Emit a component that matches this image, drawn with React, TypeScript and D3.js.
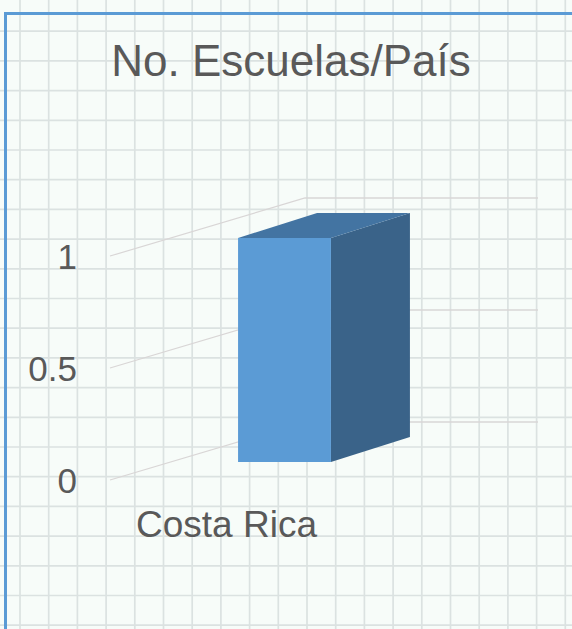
import React from "react";
import * as d3 from "d3";

const W = 572;
const H = 629;

const title = "No. Escuelas/País";
const categories = ["Costa Rica"];
const values = [1];
const yTicks = [0, 0.5, 1];
const yTickLabels = ["0", "0.5", "1"];

// 3D geometry
const wallDepth = { dx: 195, dy: -58 };
const barFrontOffset = { dx: 58, dy: -18 };
const barDepth = { dx: 79, dy: -25 };

export default function App() {
  // front plane scales
  const y = d3.scaleLinear().domain([0, 1]).range([480, 256]);
  const x = d3.scaleBand<string>().domain(categories).range([110, 343]).padding(0.43);

  const gridXs = d3.range(0, 21).map((k) => 20 + 28.7 * k);
  const gridYs = d3.range(0, 21).map((k) => 447 - 29.7 * (14 - k));

  const textColor = "#595959";
  const font = "'Liberation Sans', Arial, sans-serif";

  return (
    <svg
      width={W}
      height={H}
      style={{ position: "absolute", left: 0, top: 0, display: "block" }}
    >
      <rect x={0} y={0} width={W} height={H} fill="#f7fcf9" />
      {/* background graph-paper grid */}
      <g stroke="#dbe2e1" strokeWidth={1.7}>
        {gridXs.map((gx, i) => (
          <line key={"vx" + i} x1={gx} x2={gx} y1={0} y2={H} />
        ))}
        {gridYs.map((gy, i) => (
          <line key={"hy" + i} x1={0} x2={W} y1={gy} y2={gy} />
        ))}
      </g>
      {/* frame */}
      <path
        d={`M${5.5},${H} L${5.5},${13.5} L${W},${13.5}`}
        fill="none"
        stroke="#5b9bd5"
        strokeWidth={3}
      />
      {/* title */}
      <text
        x={291}
        y={76}
        textAnchor="middle"
        fontFamily={font}
        fontSize={44}
        fill={textColor}
      >
        {title}
      </text>
      {/* gridlines: side wall + back wall */}
      <g stroke="#d9d6d6" strokeWidth={1.3} fill="none">
        {yTicks.map((t, i) => {
          const x0 = x.range()[0];
          const y0 = y(t);
          const x1 = x0 + wallDepth.dx;
          const y1 = y0 + wallDepth.dy;
          const x2 = x.range()[1] + wallDepth.dx;
          return <path key={"g" + i} d={`M${x0},${y0} L${x1},${y1} L${x2},${y1}`} />;
        })}
      </g>
      {/* y tick labels */}
      {yTicks.map((t, i) => (
        <text
          key={"yl" + i}
          x={77}
          y={y(t)}
          dy="0.36em"
          textAnchor="end"
          fontFamily={font}
          fontSize={35}
          fill={textColor}
        >
          {yTickLabels[i]}
        </text>
      ))}
      {/* bars */}
      {categories.map((c, i) => {
        const bx0 = (x(c) as number) + barFrontOffset.dx;
        const bx1 = bx0 + x.bandwidth();
        const by0 = y(0) + barFrontOffset.dy;
        const by1 = y(values[i]) + barFrontOffset.dy;
        const ddx = barDepth.dx;
        const ddy = barDepth.dy;
        return (
          <g key={"b" + i}>
            <path
              d={`M${bx1},${by1} L${bx1 + ddx},${by1 + ddy} L${bx1 + ddx},${by0 + ddy} L${bx1},${by0} Z`}
              fill="#3a6389"
            />
            <path
              d={`M${bx0},${by1} L${bx0 + ddx},${by1 + ddy} L${bx1 + ddx},${by1 + ddy} L${bx1},${by1} Z`}
              fill="#4374a2"
            />
            <rect x={bx0} y={by1} width={bx1 - bx0} height={by0 - by1} fill="#5b9bd5" />
          </g>
        );
      })}
      {/* category labels */}
      {categories.map((c, i) => (
        <text
          key={"cl" + i}
          x={(x(c) as number) + x.bandwidth() / 2}
          y={537}
          textAnchor="middle"
          fontFamily={font}
          fontSize={37}
          fill={textColor}
        >
          {c}
        </text>
      ))}
    </svg>
  );
}
